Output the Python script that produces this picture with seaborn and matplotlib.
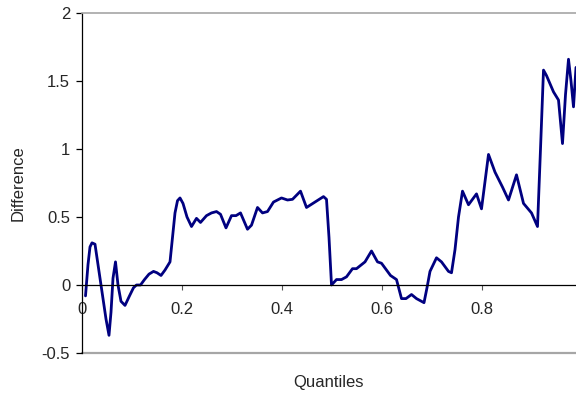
import matplotlib
matplotlib.use("Agg")
import matplotlib.pyplot as plt
import seaborn as sns
import pandas as pd

quantiles = [0.007, 0.012, 0.016, 0.020, 0.026, 0.032, 0.040, 0.048, 0.054, 0.058,
             0.062, 0.067, 0.072, 0.078, 0.086, 0.095, 0.103, 0.109, 0.117, 0.125,
             0.134, 0.143, 0.150, 0.158, 0.166, 0.176, 0.181, 0.186, 0.191, 0.196,
             0.202, 0.210, 0.219, 0.229, 0.237, 0.249, 0.259, 0.269, 0.277, 0.288,
             0.299, 0.308, 0.317, 0.331, 0.339, 0.351, 0.361, 0.371, 0.383, 0.399,
             0.411, 0.421, 0.429, 0.437, 0.449, 0.466, 0.483, 0.489, 0.494, 0.499,
             0.509, 0.519, 0.529, 0.541, 0.549, 0.566, 0.579, 0.591, 0.599, 0.617,
             0.629, 0.639, 0.648, 0.659, 0.669, 0.684, 0.690, 0.696, 0.709, 0.719,
             0.733, 0.739, 0.746, 0.753, 0.761, 0.773, 0.789, 0.799, 0.813, 0.826,
             0.841, 0.853, 0.869, 0.883, 0.899, 0.911, 0.917, 0.923, 0.929, 0.943,
             0.953, 0.961, 0.967, 0.973, 0.978, 0.983, 0.988]
difference = [-0.08, 0.15, 0.28, 0.31, 0.30, 0.15, -0.05, -0.25, -0.37, -0.20,
              0.05, 0.17, 0.00, -0.12, -0.15, -0.08, -0.02, 0.00, 0.00, 0.04,
              0.08, 0.10, 0.09, 0.07, 0.11, 0.17, 0.35, 0.53, 0.62, 0.64,
              0.60, 0.50, 0.43, 0.49, 0.46, 0.51, 0.53, 0.54, 0.52, 0.42,
              0.51, 0.51, 0.53, 0.41, 0.44, 0.57, 0.53, 0.54, 0.61, 0.64,
              0.625, 0.63, 0.66, 0.69, 0.57, 0.61, 0.65, 0.63, 0.35, 0.00,
              0.04, 0.04, 0.06, 0.12, 0.12, 0.17, 0.25, 0.17, 0.16, 0.07,
              0.04, -0.10, -0.10, -0.07, -0.10, -0.13, -0.02, 0.10, 0.20, 0.17,
              0.10, 0.09, 0.26, 0.50, 0.69, 0.59, 0.67, 0.56, 0.96, 0.83,
              0.72, 0.625, 0.81, 0.60, 0.53, 0.43, 1.00, 1.58, 1.54, 1.42,
              1.36, 1.04, 1.40, 1.66, 1.50, 1.31, 1.60]

x_ticks = [0, 0.2, 0.4, 0.6, 0.8]
x_tick_labels = ["0", "0.2", "0.4", "0.6", "0.8"]
y_ticks = [-0.5, 0, 0.5, 1, 1.5, 2]
y_tick_labels = ["-0.5", "0", "0.5", "1", "1.5", "2"]

df = pd.DataFrame({"Quantiles": quantiles, "Difference": difference})

sns.set_style("white")
plt.rcParams["font.family"] = ["Liberation Sans", "DejaVu Sans"]

fig = plt.figure(figsize=(5.76, 3.98), dpi=100)
ax = fig.add_axes([82 / 576, 1 - 353 / 398, 1 - 82 / 576, (353 - 13) / 398])

sns.lineplot(data=df, x="Quantiles", y="Difference", ax=ax, color="#000080",
             linewidth=2.0, estimator=None, sort=False, solid_joinstyle="round",
             solid_capstyle="round")

ax.set_xlim(0, 0.988)
ax.set_ylim(-0.5, 2)

ax.spines["left"].set_color("black")
ax.spines["left"].set_linewidth(0.9)
ax.spines["bottom"].set_position(("data", 0))
ax.spines["bottom"].set_color("black")
ax.spines["bottom"].set_linewidth(0.9)
ax.spines["right"].set_visible(False)
ax.spines["top"].set_color("#a6a6a6")
ax.spines["top"].set_linewidth(1.2)
ax.axhline(-0.5, color="#a6a6a6", linewidth=1.6, clip_on=False, zorder=0)

ax.set_xticks(x_ticks)
ax.set_xticklabels(x_tick_labels)
ax.set_yticks(y_ticks)
ax.set_yticklabels(y_tick_labels)
ax.tick_params(axis="x", direction="out", length=3.5, width=0.8, color="#555555",
               labelsize=12, pad=9, bottom=True)
ax.tick_params(axis="y", direction="out", length=4.5, width=0.9, color="black",
               labelsize=12, pad=4, left=True)

ax.set_xlabel("Quantiles", fontsize=12)
ax.set_ylabel("Difference", fontsize=12)
ax.xaxis.set_label_coords(0.5, -0.065)
ax.yaxis.set_label_coords(-0.115, 0.5)

fig.savefig("out.png", dpi=100)
